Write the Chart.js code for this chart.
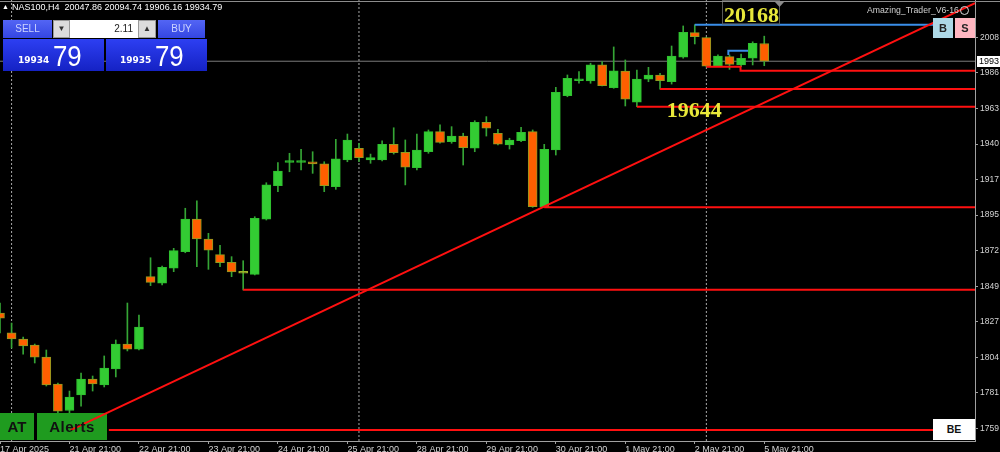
<!DOCTYPE html>
<html><head><meta charset="utf-8">
<script src="https://cdn.jsdelivr.net/npm/chart.js@4.4.1/dist/chart.umd.min.js"></script>
<style>
html,body{margin:0;padding:0;background:#000;overflow:hidden;}
#wrap{position:relative;width:1000px;height:452px;overflow:hidden;background:#000;font-family:"Liberation Sans",Arial,sans-serif;}
#c{position:absolute;left:0;top:0;}
.ov{position:absolute;box-sizing:border-box;white-space:pre;}
.btn{background:linear-gradient(#5365f4,#3446e2);color:#cdd4ff;font-size:10px;text-align:center;line-height:18px;height:18px;top:20px;}
.arr{background:#dcdcdc;border:1px solid #9a9a9a;color:#333;font-size:8px;text-align:center;line-height:16px;height:18px;top:20px;}
.pbox{top:39px;height:32px;width:101px;background:linear-gradient(#2d3ff2,#1522c4);}
.small{font-family:"DejaVu Sans",sans-serif;font-weight:bold;font-size:9px;color:#fff;line-height:1;top:56px;}
.big{font-size:30px;color:#fff;line-height:1;top:41px;transform:scaleX(0.86);transform-origin:left top;}
</style></head>
<body><div id="wrap">
<canvas id="c" width="1000" height="452"></canvas>
<div class="ov" style="left:0;top:1px;width:1000px;height:1px;background:#8c8c8c;"></div>
<div class="ov" style="left:2px;top:3px;font-size:7px;color:#fff;line-height:1;">▲</div>
<div class="ov" style="left:12px;top:3px;font-size:9px;color:#fff;line-height:1;">NAS100,H4  20047.86 20094.74 19906.16 19934.79</div>
<div class="ov btn" style="left:3px;width:49px;">SELL</div>
<div class="ov arr" style="left:53px;width:17px;">▼</div>
<div class="ov" style="left:70px;top:20px;width:68px;height:18px;background:#fff;color:#222;font-size:10px;line-height:18px;text-align:right;padding-right:5px;">2.11</div>
<div class="ov arr" style="left:138px;width:18px;">▲</div>
<div class="ov btn" style="left:158px;width:47px;">BUY</div>
<div class="ov pbox" style="left:3px;"></div>
<div class="ov pbox" style="left:106px;"></div>
<div class="ov small" style="left:18px;">19934</div>
<div class="ov big" style="left:53px;">79</div>
<div class="ov small" style="left:120px;">19935</div>
<div class="ov big" style="left:155px;">79</div>
<div class="ov" style="left:867px;top:6px;font-size:8.7px;color:#d0d0d0;line-height:1;">Amazing_Trader_V6-16</div>
<div class="ov" style="left:960px;top:6px;width:9px;height:9px;border:1px solid #d8d8d8;border-radius:50%;"></div>
<div class="ov" style="left:933px;top:18px;width:20px;height:20px;background:#add8e6;color:#222;font-weight:bold;font-size:11px;line-height:20px;text-align:center;">B</div>
<div class="ov" style="left:955px;top:18px;width:20px;height:20px;background:#ffb6c1;color:#222;font-weight:bold;font-size:11px;line-height:20px;text-align:center;">S</div>
<div class="ov" style="left:977px;top:56px;width:30px;height:11px;background:#fff;color:#000;font-size:9px;line-height:11px;padding-left:2px;">1993</div>
<div class="ov" style="left:0;top:413px;width:34px;height:27px;color:#111;font-weight:bold;font-size:15px;line-height:27px;text-align:center;">AT</div>
<div class="ov" style="left:37px;top:413px;width:70px;height:27px;color:#111;font-weight:bold;font-size:15px;line-height:27px;text-align:center;letter-spacing:0.5px;">Alerts</div>
<div class="ov" style="left:933px;top:419px;width:42px;height:21px;background:#fff;color:#111;font-weight:bold;font-size:10.5px;line-height:21px;text-align:center;">BE</div>
</div>
<script>
// ---- data (NAS100, H4) ----
const opens  = [18327,18200,18161,18123,18046,17874,17705,17804,17906,17868,17970,18129,18097,18559,18517,18613,18719,18927,18800,18700,18651,18585,18574,18927,19140,19288,19288,19293,19279,19134,19304,19379,19304,19304,19404,19353,19255,19357,19485,19421,19457,19379,19545,19475,19400,19427,19485,19006,19368,19715,19810,19809,19911,19766,19872,19673,19821,19847,19804,19960,20117,20085,19904,19964,19911,19954,20047.86];
const highs  = [18391,18263,18174,18129,18091,17880,17829,17944,17925,18053,18155,18391,18314,18680,18627,18740,18996,19044,18836,18760,18687,18661,18942,19159,19287,19347,19372,19357,19293,19436,19470,19411,19342,19427,19510,19432,19470,19496,19528,19517,19475,19555,19581,19500,19443,19513,19496,19404,19768,19847,19868,19922,19932,20026,19943,19879,19896,19858,20032,20160,20168,20088,19975,19975,19981,20059,20094.74];
const lows   = [18200,18104,18065,18008,17861,17640,17580,17733,17829,17855,17919,18085,18091,18502,18506,18591,18712,18623,18606,18623,18559,18474,18570,18921,19102,19229,19240,19219,19102,19117,19293,19293,19283,19298,19342,19145,19240,19347,19411,19411,19272,19357,19457,19400,19374,19421,19002,19002,19336,19708,19794,19794,19777,19762,19649,19644,19804,19757,19789,19954,20045,19900,19900,19883,19900,19911,19906.16];
const closes = [18295,18161,18117,18046,17868,17700,17791,17906,17874,17976,18129,18097,18238,18523,18619,18725,18927,18800,18729,18648,18589,18581,18932,19145,19234,19296,19294,19279,19140,19311,19432,19319,19319,19404,19351,19258,19368,19485,19417,19457,19383,19545,19507,19406,19432,19481,19006,19372,19736,19826,19821,19911,19779,19874,19692,19821,19847,19810,19968,20120,20091,19904,19968,19915,19954,20049,19934.79];
const dateTickIdx = [0,6,12,18,24,30,36,42,48,54,60,66];
const dateLabels  = ['17 Apr 2025','21 Apr 21:00','22 Apr 21:00','23 Apr 21:00','24 Apr 21:00','25 Apr 21:00','28 Apr 21:00','29 Apr 21:00','30 Apr 21:00','1 May 21:00','2 May 21:00','5 May 21:00'];
const priceTicks      = [20085,19860,19633,19406,19179,18952,18725,18498,18271,18044,17817,17590];
const priceTickLabels = ['2008','1986','1963','1940','1917','1895','1872','1849','1827','1804','1781','1759'];
const separatorIdx = [1,31,61];
const lastPrice = 19934.79;
const supportLevels   = [19757,19644,19002,18476,17580];
const supportStartIdx = [57,55,47,21,9.4];
const stepLevels = [19900,19874];
const stepIdx    = [61,63.95];
const trendStart = [6.09,17580];
const trendEnd   = [84.2,20306];
const highLevel = 20168;
const highSpan  = [60,81];
const bracketLevels = [19975,20002];
const bracketIdx    = [62.9,64.6];
const highLabelIdx = 62.45, lowLabelIdx = 57.57, lowLabelValue = 19644;
const xMin = 0, xMax = 84.2, yMin = 17510, yMax = 20325.7;

// ---- colours ----
const BULL = '#33cc33', BEAR = '#ff5f00', DOJI = '#9fb42a', WICK = '#35a535', BEARBORDER = '#8e9c20';
const RED = '#ff1010', BLUE = '#3a8ee8';

const wickData = lows.map((l,i)=>({x:i, y:[l, highs[i]]}));
const bodyData = opens.map((o,i)=>({x:i, y:[o, closes[i]]}));
const kind = opens.map((o,i)=> Math.abs(closes[i]-o) < 5 ? 'doji' : (closes[i] >= o ? 'bull' : 'bear'));
const bodyFill = kind.map(k=> k==='doji'?DOJI : k==='bull'?BULL:BEAR);
const bodyBorder = kind.map(k=> k==='doji'?DOJI : k==='bull'?'#2fbf2f':BEARBORDER);

const datasets = [];
datasets.push({type:'line', id:'diag', data:[{x:trendStart[0],y:trendStart[1]},{x:trendEnd[0],y:trendEnd[1]}], borderColor:RED, borderWidth:2, pointRadius:0, order:0});
supportLevels.forEach((v,k)=>{
  datasets.push({type:'line', data:[{x:supportStartIdx[k],y:v},{x:xMax,y:v}], borderColor:RED, borderWidth:2, pointRadius:0, order:1});
});
datasets.push({type:'line', data:[{x:stepIdx[0],y:stepLevels[0]},{x:stepIdx[1],y:stepLevels[0]},{x:stepIdx[1],y:stepLevels[1]},{x:xMax,y:stepLevels[1]}], borderColor:RED, borderWidth:2, pointRadius:0, order:1});
datasets.push({type:'line', data:[{x:highSpan[0],y:highLevel},{x:highSpan[1],y:highLevel}], borderColor:BLUE, borderWidth:2, pointRadius:0, order:1});
datasets.push({type:'line', data:[{x:bracketIdx[0],y:bracketLevels[0]},{x:bracketIdx[0],y:bracketLevels[1]},{x:bracketIdx[1],y:bracketLevels[1]}], borderColor:BLUE, borderWidth:2, pointRadius:0, order:1});
datasets.push({type:'bar', data:bodyData, backgroundColor:bodyFill, borderColor:bodyBorder, borderWidth:1, borderSkipped:false, barThickness:9, minBarLength:2, grouped:false, order:4});
datasets.push({type:'bar', data:wickData, backgroundColor:WICK, borderWidth:0, barThickness:1, grouped:false, order:5});
datasets.push({type:'line', data:[{x:xMin,y:lastPrice},{x:xMax,y:lastPrice}], borderColor:'#7c7c7c', borderWidth:1, pointRadius:0, order:6});
separatorIdx.forEach(i=>{
  datasets.push({type:'line', data:[{x:i,y:yMin},{x:i,y:yMax}], borderColor:'#a8a8a8', borderWidth:1, borderDash:[2,2], pointRadius:0, order:7});
});

const overlayPlugin = {
  id:'overlay',
  beforeDatasetDraw(chart, args){
    const ds = chart.data.datasets[args.index];
    if (ds.id !== 'diag') return;
    const ctx = chart.ctx;
    ctx.save();
    ctx.fillStyle = '#1f9b1f';
    ctx.fillRect(0, 413, 34, 27);
    ctx.fillRect(37, 413, 70, 27);
    ctx.restore();
  },
  afterDatasetsDraw(chart){
    const ctx = chart.ctx, xs = chart.scales.x, ys = chart.scales.y;
    ctx.save();
    const hx = Math.round(xs.getPixelForValue(highLabelIdx));
    ctx.strokeStyle = '#5a5a5a'; ctx.lineWidth = 1;
    ctx.strokeRect(hx - 0.5, 0.5, 57, 23.5);
    ctx.fillStyle = '#8a8a8a';
    ctx.beginPath(); ctx.moveTo(hx+52, 2); ctx.lineTo(hx+61, 2); ctx.lineTo(hx+56.5, 7); ctx.closePath(); ctx.fill();
    ctx.font = 'bold 22px "Liberation Serif", serif';
    ctx.fillStyle = '#e8e83a';
    ctx.textBaseline = 'alphabetic'; ctx.textAlign = 'left';
    ctx.fillText(String(highLevel), hx + 1, ys.getPixelForValue(highLevel) - 3);
    ctx.fillText(String(lowLabelValue), xs.getPixelForValue(lowLabelIdx), ys.getPixelForValue(lowLabelValue) + 10);
    ctx.restore();
  }
};

new Chart(document.getElementById('c'), {
  type:'bar',
  data:{datasets},
  options:{
    responsive:false, animation:false, devicePixelRatio:1, events:[],
    layout:{padding:0},
    plugins:{legend:{display:false}, tooltip:{enabled:false}},
    scales:{
      x:{type:'linear', min:xMin, max:xMax, offset:false,
        afterBuildTicks(s){ s.ticks = dateTickIdx.map(v=>({value:v})); },
        afterFit(s){ s.height = 11; s.paddingLeft = 0; s.paddingRight = 0; },
        ticks:{autoSkip:false, maxRotation:0, minRotation:0, align:'start', padding:0, color:'#d4d4d4',
          font:{family:'"Liberation Sans", Arial, sans-serif', size:9},
          callback:(v,i)=>dateLabels[i]},
        grid:{drawOnChartArea:false, drawTicks:true, tickLength:3, color:'#a0a0a0', offset:false},
        border:{display:true, color:'#a0a0a0'}
      },
      y:{type:'linear', position:'right', min:yMin, max:yMax,
        afterBuildTicks(s){ s.ticks = priceTicks.map(v=>({value:v})); },
        afterFit(s){ s.width = 25; s.paddingTop = 0; s.paddingBottom = 0; },
        ticks:{autoSkip:false, padding:2, crossAlign:'near', color:'#d4d4d4',
          font:{family:'"Liberation Sans", Arial, sans-serif', size:8.5},
          callback:(v,i)=>priceTickLabels[i]},
        grid:{drawOnChartArea:false, drawTicks:true, tickLength:3, color:'#a0a0a0'},
        border:{display:true, color:'#a0a0a0'}
      }
    }
  },
  plugins:[overlayPlugin]
});
</script>
</body></html>
